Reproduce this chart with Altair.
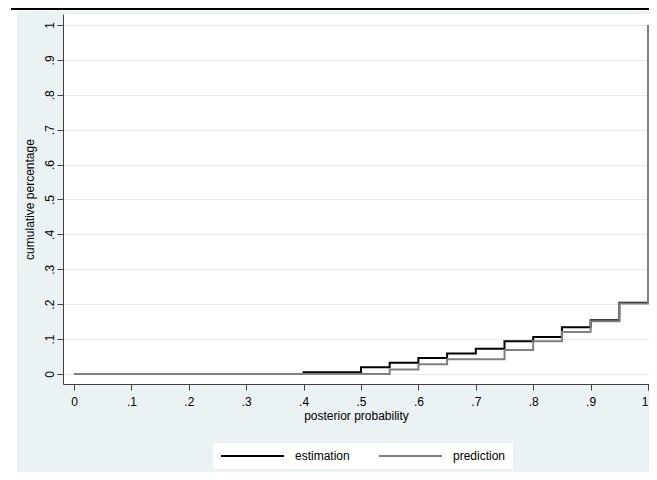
import altair as alt
import pandas as pd

# ---- data ----
est_x = [0.0, 0.40, 0.50, 0.55, 0.60, 0.65, 0.70, 0.75, 0.80, 0.85, 0.90, 0.95, 1.00]
est_y = [0.0, 0.005, 0.019, 0.032, 0.046, 0.059, 0.072, 0.094, 0.106, 0.134, 0.154, 0.204, 1.00]
pred_x = [0.0, 0.55, 0.60, 0.65, 0.75, 0.80, 0.85, 0.90, 0.95, 1.00]
pred_y = [0.0, 0.013, 0.028, 0.042, 0.069, 0.094, 0.120, 0.151, 0.202, 1.00]
series_names = ["estimation", "prediction"]
series_colors = ["#000000", "#808080"]
tick_values = [0, 0.1, 0.2, 0.3, 0.4, 0.5, 0.6, 0.7, 0.8, 0.9, 1.0]

rows = []
for xv, yv in zip(est_x, est_y):
    rows.append({"p": xv, "c": yv, "series": series_names[0], "o": 0})
for xv, yv in zip(pred_x, pred_y):
    rows.append({"p": xv, "c": yv, "series": series_names[1], "o": 1})
df = pd.DataFrame(rows)

BG = "#eaf2f3"
FONT = "Liberation Sans"
W, H = 586, 370

label_expr = "datum.value == 0 ? '0' : datum.value == 1 ? '1' : '.' + format(datum.value * 10, 'd')"

xscale = alt.Scale(domain=[-0.01916, 1.00174], nice=False, zero=False)
yscale = alt.Scale(domain=[-0.0287, 1.0315], nice=False, zero=False)

lines = alt.Chart(df).mark_line(interpolate="step-after", strokeWidth=2).encode(
    x=alt.X("p:Q", scale=xscale,
            axis=alt.Axis(title="posterior probability", values=tick_values, labelExpr=label_expr,
                          grid=False, tickSize=6, labelPadding=6, titlePadding=3)),
    y=alt.Y("c:Q", scale=yscale,
            axis=alt.Axis(title="cumulative percentage", values=tick_values, labelExpr=label_expr,
                          grid=True, gridColor="#e3ebee", gridWidth=1, tickSize=6,
                          labelAngle=270, labelPadding=1, titlePadding=7)),
    color=alt.Color("series:N", scale=alt.Scale(domain=series_names, range=series_colors),
                    legend=alt.Legend(title=None, orient="none", legendX=150, legendY=429,
                                      direction="horizontal", fillColor="white", padding=7,
                                      symbolType="M-1,0H11.6", symbolSize=100, symbolStrokeWidth=2,
                                      labelFont=FONT, labelFontSize=12, labelColor="#000000",
                                      labelOffset=63, columnPadding=25)),
    order="o:Q",
)

# decorative frame pieces outside the plot area (graph region edges)
strip_top = alt.Chart().mark_rect(color="white").encode(
    x=alt.value(-60), x2=alt.value(W), y=alt.value(-6), y2=alt.value(-3))
strip_left = alt.Chart().mark_rect(color="white").encode(
    x=alt.value(-60), x2=alt.value(-46), y=alt.value(-6), y2=alt.value(H + 100))
top_rule = alt.Chart().mark_rule(color="black", strokeWidth=2).encode(
    x=alt.value(-52), x2=alt.value(W), y=alt.value(-5))

chart = alt.layer(strip_top, strip_left, top_rule, lines).properties(
    width=W, height=H,
    padding={"left": 55, "top": 6, "right": 0, "bottom": 88},
    autosize=alt.AutoSizeParams(type="none"),
    background=BG,
).configure_view(
    fill="white", stroke=None
).configure_axis(
    labelFont=FONT, labelFontSize=12, labelColor="#000000",
    titleFont=FONT, titleFontSize=12, titleColor="#000000", titleFontWeight="normal",
    domainColor="#404040", tickColor="#404040", domainWidth=1, tickWidth=1,
)

chart.save("out.html", embed_options={"renderer": "svg", "actions": False})
